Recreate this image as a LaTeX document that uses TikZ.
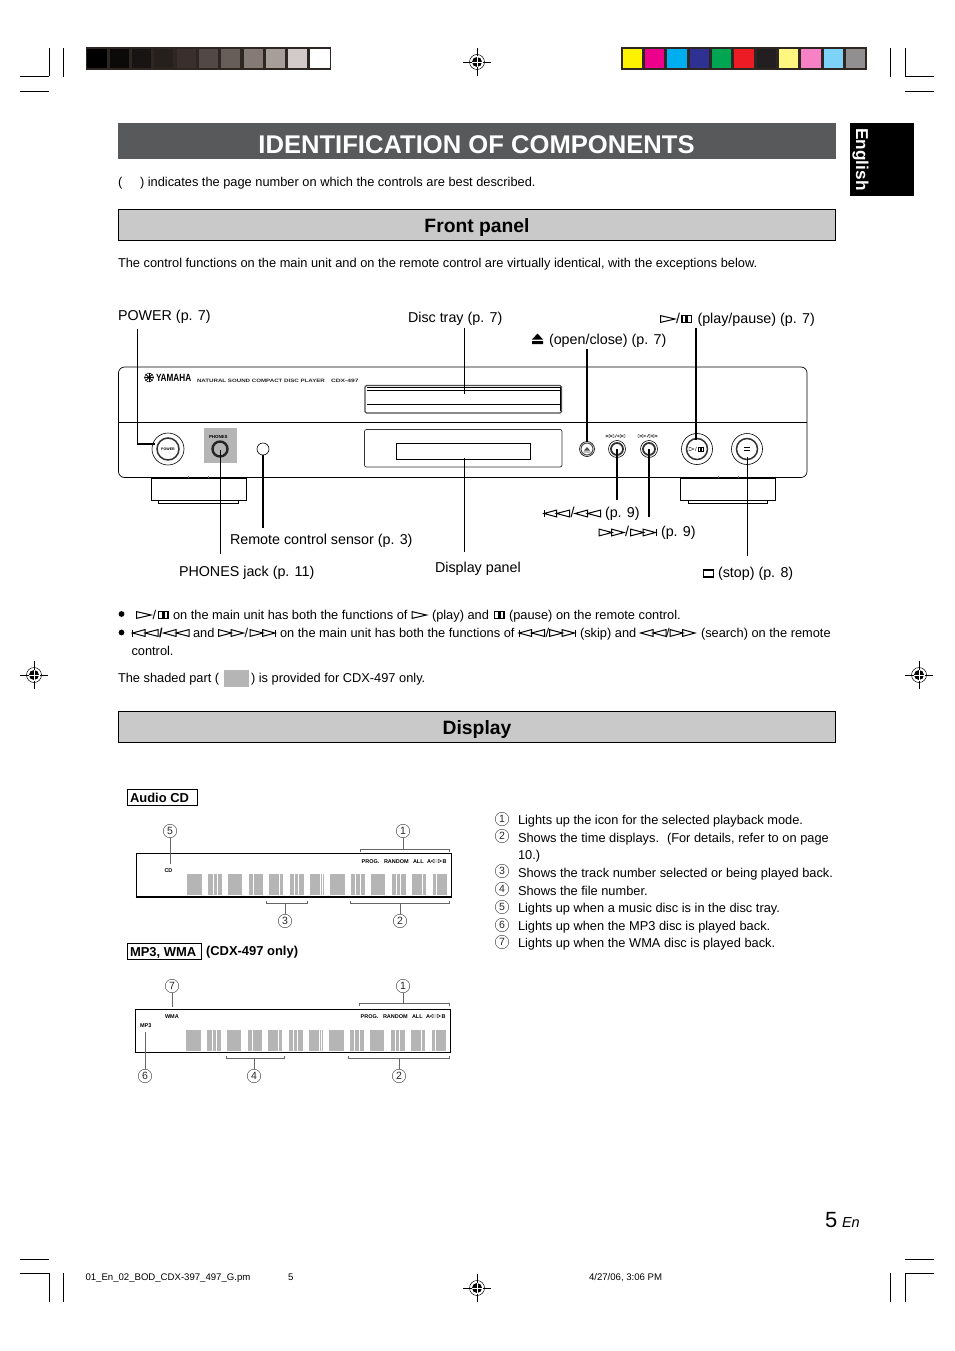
\documentclass[tikz,border=0pt]{standalone}
\usepackage{fontspec}
\setmainfont{Liberation Sans}
\definecolor{framecol}{HTML}{2E2623}
\definecolor{headcol}{HTML}{58595B}
\definecolor{barcol}{HTML}{C9C9C9}
\definecolor{shadecol}{HTML}{B5B5B5}
\tikzset{
 txt/.style={anchor=base west,inner sep=0pt,outer sep=0pt,text=black},
 body/.style={txt,font=\fontsize{12.82}{14}\selectfont},
 call/.style={txt,font=\fontsize{14.3}{16}\selectfont},
 tiny/.style={txt,font=\fontsize{5.5}{6}\selectfont\bfseries},
 crop/.style={line width=0.8pt,black},
 leadthick/.style={line width=1.8pt,black},
 leadthin/.style={line width=0.6pt,black},
 icon/.style={line width=1pt,black},
 panel/.style={line width=0.7pt,black},
 brk/.style={line width=1pt,black!60},
 num/.style={circle,draw=black!75,line width=0.45pt,minimum size=13.5pt,inner sep=0pt,font=\fontsize{10.5}{11}\selectfont,text=black!85},
 barhead/.style={draw=black,line width=0.6pt,fill=barcol,minimum width=717pt,minimum height=31pt,inner sep=0pt},
 bartitle/.style={anchor=base,inner sep=0pt,font=\fontsize{19.3}{22}\selectfont\bfseries},
 labbox/.style={draw=black,line width=0.9pt,anchor=north west,inner sep=0pt},
 labtxt/.style={txt,font=\fontsize{12.95}{14}\selectfont\bfseries},
}
% icons: x (left), y (centre), size
\newcommand\icR[3]{\draw[icon] (#1,#2-3.4) -- (#1+#3,#2) -- (#1,#2+3.4) -- cycle;}
\newcommand\icL[3]{\draw[icon] (#1+#3,#2-3.4) -- (#1,#2) -- (#1+#3,#2+3.4) -- cycle;}
\newcommand\icPause[2]{\draw[icon,line width=1.1pt] (#1,#2-3.2) rectangle (#1+4,#2+3.2) (#1+5.5,#2-3.2) rectangle (#1+9.5,#2+3.2);}
\newcommand\icPrev[2]{\draw[icon] (#1,#2-3.5) -- (#1,#2+3.5); \icL{#1}{#2}{12.5}\icL{#1+12.5}{#2}{13}}
\newcommand\icBack[2]{\icL{#1}{#2}{12.5}\icL{#1+12.5}{#2}{13}}
\newcommand\icFwd[2]{\icR{#1}{#2}{13}\icR{#1+12.5}{#2}{12.5}}
\newcommand\icNext[2]{\icR{#1}{#2}{13}\icR{#1+12.5}{#2}{12.5}\draw[icon] (#1+25.5,#2-3.5) -- (#1+25.5,#2+3.5);}
\newcommand\regmark[3]{%
 \draw[line width=0.4pt,black] (#2-14,#3) -- (#2+14,#3) (#2,#3-14) -- (#2,#3+14);
 \draw[line width=0.5pt,black] (#2,#3) circle (7.5);
 \fill[black] (#2,#3) circle (5);
 \draw[line width=0.8pt,white] (#2-5.5,#3) -- (#2+5.5,#3) (#2,#3-5.5) -- (#2,#3+5.5);
 \coordinate (#1) at (#2,#3);}
% display bars, in zoom coordinates
\newcommand\dispbars[2]{%
 \begin{scope}[shift={(#1,#2)},x=0.3333pt,y=-0.3333pt]
  \foreach \a/\b in {200/247,264/306,324/367,386/430,447/490,509/552,570/612,630/675,692/735,752/796,815/858,876/918,940/982}
   \fill[shadecol] (\a,0) rectangle (\b,64);
  \foreach \a in {278,291,399,478,522,535,599,605,705,720,828,841,905,949}
   \fill[white] (\a,0) rectangle (\a+3.5,64);
 \end{scope}}
\newcommand\disptext[3]{%
 \node[tiny] (#1a) at (#2+241.7,#3) {PROG.};
 \node[tiny] (#1b) at (#2+264,#3) {RANDOM};
 \node[tiny] (#1c) at (#2+293,#3) {ALL};
 \node[tiny] (#1d) at (#2+307,#3) {A};
 \draw[line width=0.4pt,black] (#2+311,#3-2) -- (#2+314,#3-3.6) -- (#2+314,#3-0.4) -- cycle
   (#2+321.5,#3-2) -- (#2+318.5,#3-3.6) -- (#2+318.5,#3-0.4) -- cycle (#2+314,#3-3) -- (#2+318.5,#3-3) (#2+314,#3-1) -- (#2+318.5,#3-1);
 \node[tiny] (#1e) at (#2+322.7,#3) {B};}
\begin{document}
\begin{tikzpicture}[x=1pt,y=-1pt]
\useasboundingbox (0,0) rectangle (954,1351);
\fill[white] (0,0) rectangle (954,1351);
% crop marks
\draw[crop] (20,76.5) -- (48.5,76.5) (49,48) -- (49,76.5) (63,48) -- (63,77) (20,91.5) -- (49,91.5);
\draw[crop] (890,48) -- (890,77) (905,48) -- (905,76.5) -- (934,76.5) (905,91.5) -- (934,91.5);
\draw[crop] (20,1259.5) -- (49,1259.5) (20,1273.5) -- (49,1273.5) -- (49,1302) (63,1273) -- (63,1302);
\draw[crop] (890,1273) -- (890,1302) (905,1302) -- (905,1273.5) -- (934,1273.5) (905,1259.5) -- (934,1259.5);
\regmark{rtop}{477}{62}
\regmark{rbot}{477}{1288}
\regmark{rleft}{34}{675}
\regmark{rright}{919}{675}
% colour strips
\fill[framecol] (86,47) rectangle (331,70);
\foreach \a/\b/\c in {262/322/000000,330/388/0B0A09,396/454/171413,462/520/26201C,530/588/3A2F2D,597/654/524845,663/720/675D59,731/790/857A76,798/856/A79E9A,864/922/D3CBC9,930/990/FFFFFF}{
 \definecolor{tmpc}{HTML}{\c}
 \fill[tmpc] (\a/3,49) rectangle (\b/3,68.5);}
\fill[framecol] (621,47) rectangle (867,70);
\foreach \a/\b/\c in {429/487/FFF200,495/552/EC008C,561/621/00AEEF,630/688/2E3192,696/753/00A651,762/822/ED1C24,831/889/231F20,897/954/FFF77F,963/1023/F682C5,1032/1090/7DD3F7,1098/1155/918F90}{
 \definecolor{tmpc}{HTML}{\c}
 \fill[tmpc] (480+\a/3,49) rectangle (480+\b/3,68.5);}
% heading
\node[fill=headcol,minimum width=718pt,minimum height=36pt,inner sep=0pt,anchor=north west] (head) at (118,123) {};
\node[anchor=base,inner sep=0pt,text=white,font=\fontsize{25.6}{28}\selectfont\bfseries] (title) at (476.5,153.5) {IDENTIFICATION OF COMPONENTS};
\node[fill=black,minimum width=64pt,minimum height=73pt,inner sep=0pt,anchor=north west] (tab) at (850,123) {};
\node[rotate=-90,anchor=base,inner sep=0pt,text=white,font=\fontsize{17.2}{20}\selectfont\bfseries] (tabtext) at (856,159.5) {English};
\node[body] (par1) at (118,186) {(};
\node[body] (par2) at (140,186) {) indicates the page number on which the controls are best described.};
\node[barhead,anchor=north west] (fpbar) at (118.3,209.3) {};
\node[bartitle] (fptitle) at (477,232) {Front panel};
\node[body] (intro) at (118,267) {The control functions on the main unit and on the remote control are virtually identical, with the exceptions below.};
% callout labels
\node[call] (lpower) at (118,320) {POWER (p. 7)};
\node[call] (ldisc) at (408,322) {Disc tray (p. 7)};
\fill[black] (532,341) rectangle (543,344) (532,339.5) -- (537.5,333.5) -- (543,339.5) -- cycle;
\node[call] (lopen) at (549,344) {(open/close) (p. 7)};
\icR{660.5}{319}{14.5}
\node[call] (lslash) at (676,323) {/};
\icPause{682}{319}
\node[call] (lplay) at (697.5,323) {(play/pause) (p. 7)};
\node[call] (lsensor) at (230,544) {Remote control sensor (p. 3)};
\node[call] (lphones) at (179,576) {PHONES jack (p. 11)};
\node[call] (ldisp) at (435,572) {Display panel};
\icPrev{544}{513.5}
\node[call] (lsl2) at (570.5,517) {/};
\icBack{575}{513.5}
\node[call] (lprev) at (605,517) {(p. 9)};
\icFwd{599}{532.5}
\node[call] (lsl3) at (625,536) {/};
\icNext{630.5}{532.5}
\node[call] (lnext) at (661,536) {(p. 9)};
\draw[line width=1.5pt,black] (703.5,570) rectangle (713.5,577);
\node[call] (lstop) at (718,577) {(stop) (p. 8)};
% player body
\draw[panel,rounded corners=6pt] (118.5,367) rectangle (807,477.5);
\draw[panel] (118.5,422.5) -- (807,422.5);
\draw[panel,line width=0.6pt] (151,478) rectangle (246,500);
\draw[panel,line width=0.6pt] (158,500) rectangle (238,503);
\draw[panel,line width=0.6pt] (680,478) rectangle (775,500);
\draw[panel,line width=0.6pt] (688,500) rectangle (767,503);
\draw[line width=0.6pt,black!55] (188,476) -- (188,478) (208,476) -- (208,478) (718,476) -- (718,478) (738,476) -- (738,478);
% disc tray
\draw[line width=1.1pt,black!70,rounded corners=1.5pt] (365,385.5) rectangle (561.5,413);
\draw[line width=0.5pt,black] (366.5,387) -- (560,387) (366.5,390) -- (560,390) (366.5,404) -- (560,404) (560,387) -- (560,411);
% display window
\draw[panel,black!80,rounded corners=2pt] (364.5,429.5) rectangle (562,467);
\draw[line width=0.7pt,black] (396,443.5) rectangle (530,459);
% logo
\draw[line width=0.5pt,black] (149,377.5) circle (4.5);
\foreach \r in {0,45,90,135} \draw[line width=0.8pt,black,rotate around={\r:(149,377.5)}] (144.5,377.5) -- (153.5,377.5);
\node[txt,font=\fontsize{10.5}{11}\selectfont\bfseries,xscale=0.78] (logo) at (156,381.5) {YAMAHA};
\node[txt,font=\fontsize{4.8}{5}\selectfont\bfseries,text=black!85,xscale=1.28] (model) at (197,382) {NATURAL SOUND COMPACT DISC PLAYER};
\node[txt,font=\fontsize{4.8}{5}\selectfont\bfseries,text=black!85,xscale=1.4] (cdx) at (331,382) {CDX-497};
% controls
\fill[shadecol] (204,428) rectangle (237,463);
\node[txt,font=\fontsize{4.4}{5}\selectfont\bfseries] (phonestxt) at (209,438) {PHONES};
\draw[line width=0.6pt,black] (168,449) circle (16);
\draw[line width=1.5pt,black!80] (168,449) circle (11);
\node[anchor=center,inner sep=0pt,font=\fontsize{3.6}{4}\selectfont\bfseries] (powtxt) at (168,449) {POWER};
\draw[line width=2.4pt,black!85] (220,449) circle (7.5);
\draw[line width=0.6pt,black] (263,449) circle (6);
\draw[line width=0.6pt,black] (587,449) circle (7.5);
\draw[line width=1pt,black!70] (587,449) circle (6);
\fill[black!70] (583.5,451.5) rectangle (590.5,452.3) (584,450.5) -- (587,447) -- (590,450.5) -- cycle;
\draw[line width=0.6pt,black] (617,449) circle (8.5);
\draw[line width=1.8pt,black!80] (617,449) circle (6);
\draw[line width=0.6pt,black] (649,449) circle (8.5);
\draw[line width=1.8pt,black!80] (649,449) circle (6);
\draw[line width=0.3pt] (606,434.5) -- (606,437.5) (606,436) -- (610,434.5) -- (610,437.5) -- cycle (610,436) -- (614,434.5) -- (614,437.5) -- cycle (615,437.5) -- (616.5,434.5) (617,436) -- (621,434.5) -- (621,437.5) -- cycle (621,436) -- (625,434.5) -- (625,437.5) -- cycle;
\draw[line width=0.3pt] (638,434.5) -- (642,436) -- (638,437.5) -- cycle (642,434.5) -- (646,436) -- (642,437.5) -- cycle (647,437.5) -- (648.5,434.5) (649,434.5) -- (653,436) -- (649,437.5) -- cycle (653,434.5) -- (657,436) -- (653,437.5) -- cycle (657,434.5) -- (657,437.5);
\draw[line width=0.6pt,black] (697,449) circle (15.5);
\draw[line width=1.5pt,black!80] (697,449) circle (10.5);
\draw[line width=0.3pt] (689,447) -- (694,449) -- (689,451) -- cycle (695,451) -- (696.5,447);
\draw[line width=0.9pt] (698,447) rectangle (700,451) (701.5,447) rectangle (703.5,451);
\draw[line width=0.6pt,black] (747,449) circle (15.5);
\draw[line width=1.5pt,black!80] (747,449) circle (10.5);
\draw[line width=0.6pt] (744,447.5) -- (750,447.5) (744,450.5) -- (750,450.5);
% leaders
\coordinate (pwrA) at (137.5,329); \coordinate (pwrB) at (137.5,444); \coordinate (pwrC) at (155,444);
\draw[leadthick] (pwrA) -- (pwrB) -- (pwrC);
\coordinate (discA) at (464.5,328); \coordinate (discB) at (464.5,393.5); \draw[leadthin] (discA) -- (discB);
\coordinate (dispA) at (464.5,458); \coordinate (dispB) at (464.5,552); \draw[leadthin] (dispA) -- (dispB);
\coordinate (openA) at (587,349); \coordinate (openB) at (587,442); \draw[leadthick] (openA) -- (openB);
\coordinate (playA) at (696,328); \coordinate (playB) at (696,440); \draw[leadthick] (playA) -- (playB);
\coordinate (prevA) at (617,449); \coordinate (prevB) at (617,500); \draw[leadthick] (prevA) -- (prevB);
\coordinate (nextA) at (649,449); \coordinate (nextB) at (649,517); \draw[leadthick] (nextA) -- (nextB);
\coordinate (stopA) at (747,457); \coordinate (stopB) at (747,556); \draw[leadthin] (stopA) -- (stopB);
\coordinate (phA) at (220,450); \coordinate (phB) at (220,554); \draw[leadthin] (phA) -- (phB);
\coordinate (senA) at (263,455); \coordinate (senB) at (263,528); \draw[leadthick] (senA) -- (senB);
% notes
\fill[black] (121.5,614) circle (2.9);
\icR{136.5}{615}{14.5}
\node[body] (n1s) at (152.5,619) {/};
\icPause{158.5}{615}
\node[body] (n1a) at (173,619) {on the main unit has both the functions of};
\icR{412}{615}{14.5}
\node[body] (n1b) at (432,619) {(play) and};
\icPause{494.5}{615}
\node[body] (n1c) at (509,619) {(pause) on the remote control.};
\fill[black] (121.5,632.5) circle (2.9);
\icPrev{132.5}{633}
\node[body,font=\fontsize{12.82}{14}\selectfont\bfseries] (n2s) at (159,637) {/};
\icBack{163.5}{633}
\node[body] (n2a) at (193,637) {and};
\icFwd{218.5}{633}
\node[body] (n2t) at (244.5,637) {/};
\icNext{250}{633}
\node[body] (n2b) at (280,637) {on the main unit has both the functions of};
\icPrev{519}{633}
\node[body] (n2u) at (545.5,637) {/};
\icNext{549.5}{633}
\node[body] (n2c) at (580,637) {(skip) and};
\icBack{640.5}{633}
\node[body] (n2v) at (666,637) {/};
\icFwd{670}{633}
\node[body] (n2d) at (701,637) {(search) on the remote};
\node[body] (n3) at (131.5,655) {control.};
\node[body] (sh1) at (118,682) {The shaded part (};
\fill[shadecol] (224,670) rectangle (249,687);
\node[body] (sh2) at (251,682) {) is provided for CDX-497 only.};
\node[barhead,anchor=north west] (dbar) at (118.3,711.3) {};
\node[bartitle] (dtitle) at (477,734) {Display};
% Audio CD
\node[labbox,minimum width=69.5pt,minimum height=16.5pt] (acd) at (127,788.5) {};
\node[labtxt] (acdt) at (130,802) {Audio CD};
\draw[line width=0.8pt,black] (136,853.5) -- (451,853.5) -- (451,897) (136,853.5) -- (136,897);
\draw[line width=1.6pt,black] (135.5,897) -- (451.5,897);
\dispbars{120}{873.7}
\disptext{ta}{120}{863}
\node[tiny] (cd) at (164.5,872) {CD};
\node[num] (a5) at (170,831) {5};
\node[num] (a1) at (403,831) {1};
\node[num] (a3) at (285,921) {3};
\node[num] (a2) at (400,921) {2};
\coordinate (a5e) at (170,864);
\draw[leadthin,black!60] (a5) -- (a5e);
\coordinate (a1s) at (403,849);
\draw[brk] (360,851.5) -- (360,849) -- (449,849) -- (449,851.5) (a1) -- (a1s);
\coordinate (a3s) at (285,903.5);
\draw[brk] (266,901) -- (266,903.5) -- (307,903.5) -- (307,901) (a3) -- (a3s);
\coordinate (a2s) at (400,903.5);
\draw[brk] (350,901) -- (350,903.5) -- (449,903.5) -- (449,901) (a2) -- (a2s);
% MP3 WMA
\node[labbox,minimum width=73.5pt,minimum height=16pt] (mw) at (127,943) {};
\node[labtxt] (mwt) at (130,956) {MP3, WMA};
\node[labtxt] (only) at (206,955.5) {(CDX-497 only)};
\draw[line width=0.8pt,black] (135,1009) -- (450,1009) -- (450,1052.5) (135,1009) -- (135,1052.5);
\draw[line width=1.3pt,black] (134.5,1052.5) -- (450.5,1052.5);
\dispbars{119}{1030}
\disptext{tb}{119}{1018}
\node[tiny] (wma) at (165,1018) {WMA};
\node[tiny] (mp3) at (140,1027) {MP3};
\node[num] (b7) at (172,986) {7};
\node[num] (b1) at (403,986) {1};
\node[num] (b6) at (145,1076) {6};
\node[num] (b4) at (254,1076) {4};
\node[num] (b2) at (399,1076) {2};
\coordinate (b7e) at (172,1007);
\draw[brk] (b7) -- (b7e);
\coordinate (b6e) at (145,1032);
\draw[leadthin,black!60] (b6) -- (b6e);
\coordinate (b1s) at (403,1003);
\draw[brk] (359,1005.5) -- (359,1003) -- (449,1003) -- (449,1005.5) (b1) -- (b1s);
\coordinate (b4s) at (254,1058.5);
\draw[brk] (226,1056) -- (226,1058.5) -- (284,1058.5) -- (284,1056) (b4) -- (b4s);
\coordinate (b2s) at (399,1058.5);
\draw[brk] (348,1056) -- (348,1058.5) -- (449,1058.5) -- (449,1056) (b2) -- (b2s);
% legend
\node[num] (k1) at (502,819) {1};
\node[body] (kt1) at (518,824) {Lights up the icon for the selected playback mode.};
\node[num] (k2) at (502,836) {2};
\node[body] (kt2) at (518,842) {Shows the time displays.\hspace{0.25em} (For details, refer to on page};
\node[body] (kt2b) at (518,859) {10.)};
\node[num] (k3) at (502,871) {3};
\node[body] (kt3) at (518,877) {Shows the track number selected or being played back.};
\node[num] (k4) at (502,889) {4};
\node[body] (kt4) at (518,895) {Shows the file number.};
\node[num] (k5) at (502,907) {5};
\node[body] (kt5) at (518,912) {Lights up when a music disc is in the disc tray.};
\node[num] (k6) at (502,925) {6};
\node[body] (kt6) at (518,930) {Lights up when the MP3 disc is played back.};
\node[num] (k7) at (502,942) {7};
\node[body] (kt7) at (518,947) {Lights up when the WMA disc is played back.};
% page number and footer
\node[txt,font=\fontsize{22}{24}\selectfont] (pg) at (825,1227) {5};
\node[txt,font=\fontsize{14.5}{16}\selectfont\itshape] (en) at (842,1227) {En};
\node[txt,font=\fontsize{9.6}{10}\selectfont] (f1) at (85.5,1280) {01\_En\_02\_BOD\_CDX-397\_497\_G.pm};
\node[txt,font=\fontsize{9.6}{10}\selectfont] (f2) at (288,1280) {5};
\node[txt,font=\fontsize{9.6}{10}\selectfont] (f3) at (589,1280) {4/27/06, 3:06 PM};
\end{tikzpicture}
\end{document}
